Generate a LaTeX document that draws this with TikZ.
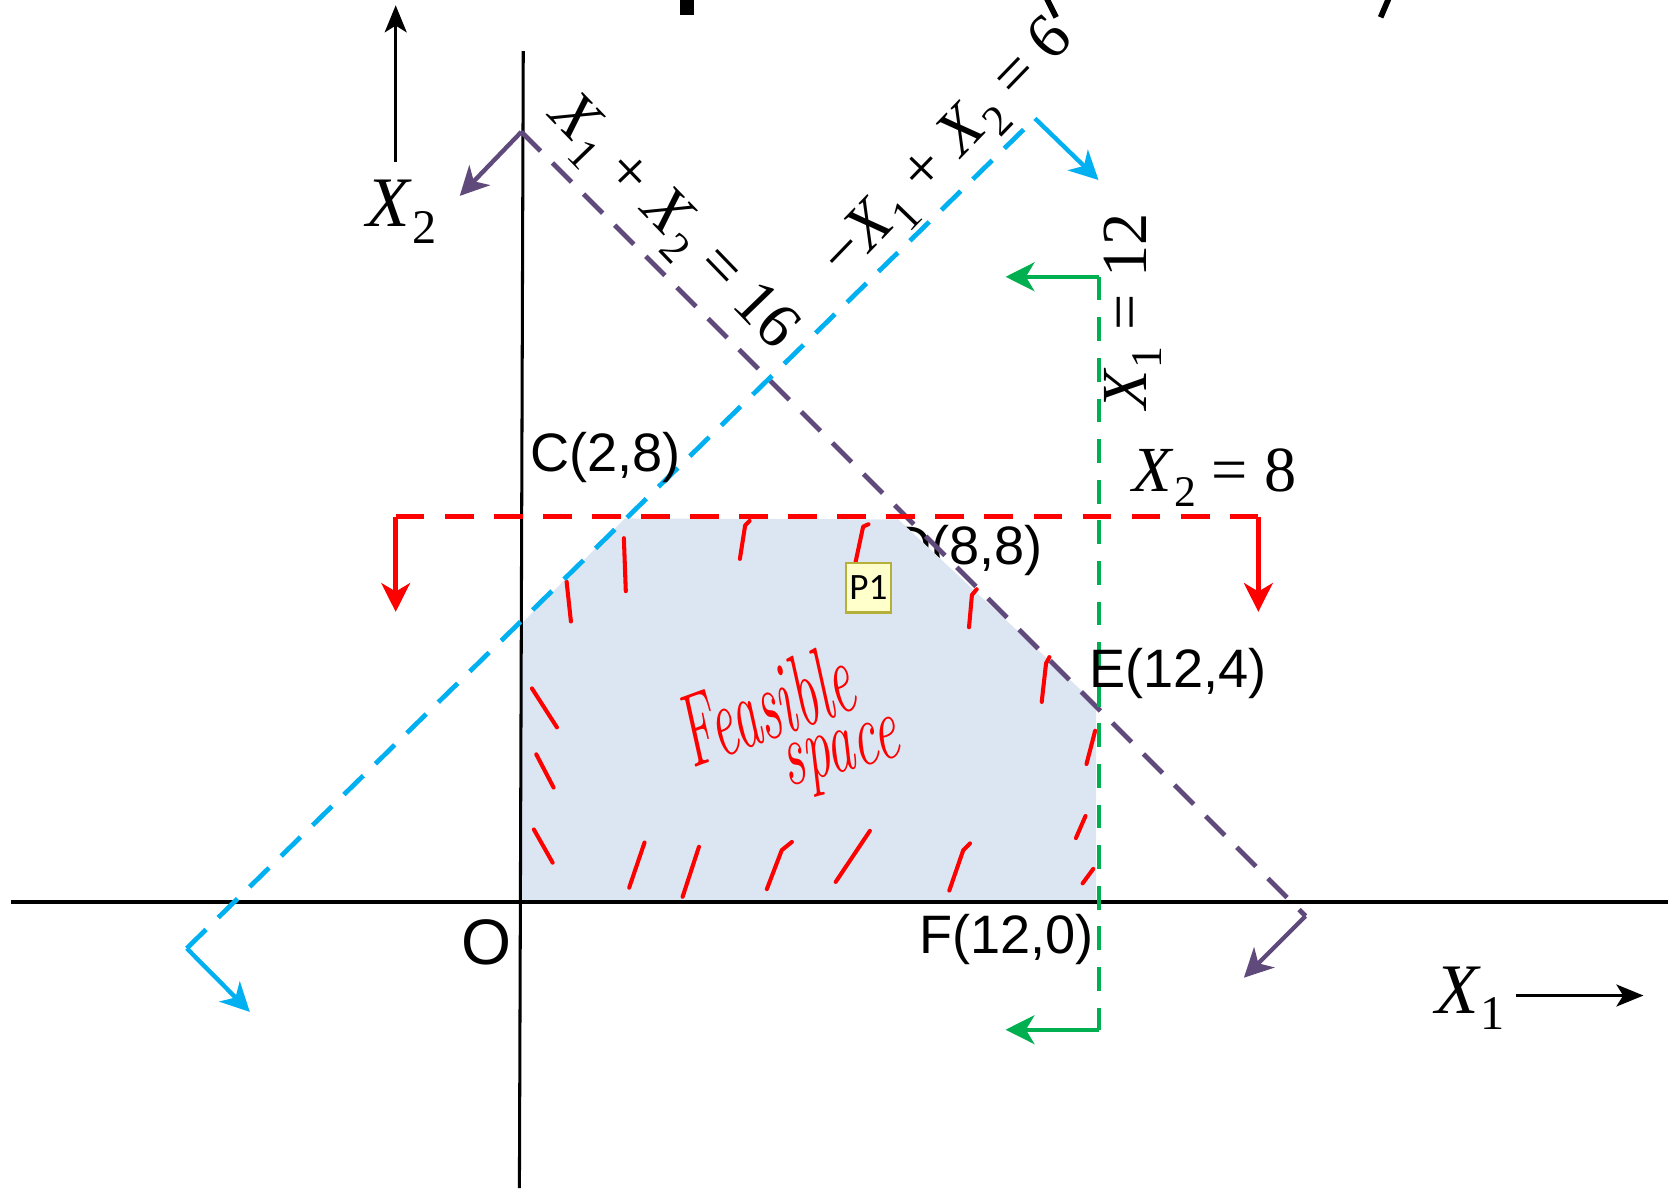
\documentclass[tikz,border=0pt]{standalone}
\usepackage{fontspec}
\usepackage{graphicx}
\usepackage{tikz}
\usetikzlibrary{arrows.meta}

\newfontfamily\sansfnt{Liberation Sans}
\newfontfamily\serfnt{Liberation Serif}
\newfontfamily\notefnt{Carlito}
\newcommand{\Xv}[1]{\textit{X}\raisebox{-0.5ex}{\scalebox{0.68}{#1}}}

\definecolor{skyline}{HTML}{00B0F0}
\definecolor{plumline}{HTML}{604A7B}
\definecolor{leafline}{HTML}{00B050}
\definecolor{regionfill}{HTML}{DCE6F2}
\definecolor{notefill}{HTML}{FFFFCC}
\definecolor{noteedge}{HTML}{B5B03A}

\begin{document}
\begin{tikzpicture}[x=0.5cm,y=0.5cm,
  ptlabel/.style={font=\sansfnt\fontsize{16}{19}\selectfont,inner sep=0pt},
  eqlabel/.style={font=\serfnt\fontsize{19}{22}\selectfont,inner sep=0pt},
  axlabel/.style={font=\serfnt\fontsize{21}{24}\selectfont,inner sep=0pt},
  bound/.style={line width=1.3pt,-{Stealth[length=8.5pt,width=8.5pt,inset=2.5pt]}},
  dashline/.style={line width=1.4pt,dash pattern=on 8pt off 5pt},
  axisarrow/.style={line width=0.8pt,-{Stealth[length=8pt,width=6.5pt,inset=2pt]}},
  hatch/.style={red,line width=1.2pt,line cap=round,line join=round},
  hand/.style={red,font=\itshape\fontsize{16}{19}\selectfont,inner sep=0pt}]

\useasboundingbox (-10.83,-5.94) rectangle (23.82,18.74);

% label D sits partly under the region
\node[ptlabel] (ptD) at (9.27,7.31) {D(8,8)};

\fill[regionfill] (0,0) -- (0,5.78) -- (2.15,7.97) -- (7.83,7.95) -- (11.94,4.11) -- (11.94,0) -- cycle;

% hand marks
\draw[hatch] (0.94,6.66) -- (1.03,5.83);
\draw[hatch] (2.13,7.56) -- (2.17,6.46);
\draw[hatch] (4.74,7.92) -- (4.65,7.83) -- (4.54,7.13);
\draw[hatch] (7.21,7.85) -- (7.10,7.80) -- (6.94,7.05);
\draw[hatch] (9.46,6.50) -- (9.36,6.38) -- (9.30,5.71);
\draw[hatch] (10.97,5.09) -- (10.90,4.96) -- (10.81,4.16);
\draw[hatch] (0.22,4.44) -- (0.74,3.63);
\draw[hatch] (0.31,3.07) -- (0.67,2.38);
\draw[hatch] (0.26,1.51) -- (0.65,0.82);
\draw[hatch] (2.56,1.24) -- (2.24,0.30);
\draw[hatch] (3.69,1.15) -- (3.35,0.11);
\draw[hatch] (5.62,1.25) -- (5.41,1.08) -- (5.10,0.27);
\draw[hatch] (7.24,1.48) -- (6.53,0.42);
\draw[hatch] (9.32,1.22) -- (9.18,1.08) -- (8.89,0.24);
\draw[hatch] (11.92,3.56) -- (11.74,2.87);
\draw[hatch] (11.72,1.79) -- (11.52,1.33);
\draw[hatch] (11.88,0.69) -- (11.66,0.39);
\node[hand,rotate=20] (feasword) at (5.05,4.1) {\scalebox{1}[1.9]{Feasible}};
\node[hand,rotate=15] (spaceword) at (6.68,2.95) {\scalebox{1}[1.7]{space}};

% axes
\draw[line width=1pt] (-10.61,0) -- (23.82,0);
\draw[line width=0.9pt] (0.04,17.68) -- (-0.04,-5.94);

% X1 + X2 = 16
\coordinate (pu1) at (0,16);
\coordinate (pu2) at (16.29,-0.29);
\draw[plumline,dashline] (pu1) -- (pu2);
\draw[plumline,bound] (pu1) -- ++(-1.28,-1.33);
\draw[plumline,bound] (pu2) -- ++(-1.28,-1.28);

% -X1 + X2 = 6
\coordinate (cy1) at (-6.95,-0.96);
\coordinate (cy2) at (10.67,16.28);
\draw[skyline,dashline] (cy1) -- (cy2);
\draw[skyline,bound] (cy1) -- ++(1.31,-1.32);
\draw[skyline,bound] (cy2) -- ++(1.32,-1.28);

% X1 = 12
\coordinate (gr1) at (12,12.99);
\coordinate (gr2) at (12,-2.65);
\draw[leafline,dashline,dash pattern=on 7pt off 5pt] (gr1) -- (gr2);
\draw[leafline,bound] (gr1) -- ++(-1.94,0);
\draw[leafline,bound] (gr2) -- ++(-1.94,0);

% X2 = 8
\coordinate (rd1) at (-2.61,8.01);
\coordinate (rd2) at (15.31,8.01);
\draw[red,dashline,line width=1.6pt,dash pattern=on 8.5pt off 6pt] (rd1) -- (rd2);
\draw[red,bound] (rd1) -- ++(0,-1.98);
\draw[red,bound] (rd2) -- ++(0,-1.98);

% cut-off title
\fill (3.30,18.74) rectangle (3.58,18.42);
\draw[line width=1.7pt] (10.90,18.80) -- (11.11,18.38);
\draw[line width=1.7pt] (18.03,18.80) -- (17.85,18.38);

% axis names
\node[axlabel] (nameX2) at (-2.49,14.34) {\Xv{2}};
\coordinate (x2tail) at (-2.61,15.38);
\coordinate (x2head) at (-2.61,18.63);
\draw[axisarrow] (x2tail) -- (x2head);
\node[axlabel] (nameX1) at (19.71,-2.0) {\Xv{1}};
\coordinate (x1tail) at (20.66,-1.94);
\coordinate (x1head) at (23.31,-1.94);
\draw[axisarrow] (x1tail) -- (x1head);

% constraint names
\node[eqlabel,rotate=-46] (eqA) at (3.12,14.08) {\Xv{1} + \Xv{2} = 16};
\node[eqlabel,rotate=46] (eqB) at (8.9,15.62) {−\Xv{1} + \Xv{2} = 6};
\node[eqlabel,rotate=90] (eqC) at (12.7,12.27) {\Xv{1} = 12};
\node[eqlabel] (eqD) at (14.4,8.82) {\Xv{2} = 8};

% corner points
\node[ptlabel] (ptC) at (1.75,9.24) {C(2,8)};
\node[ptlabel] (ptE) at (13.64,4.75) {E(12,4)};
\node[ptlabel] (ptF) at (10.08,-0.77) {F(12,0)};
\node[ptlabel,font=\sansfnt\fontsize{19}{22}\selectfont] (ptO) at (-0.73,-0.84) {O};

\node[draw=noteedge,fill=notefill,line width=0.7pt,minimum width=0.47cm,minimum height=0.51cm,inner sep=0pt,font=\notefnt\fontsize{11}{13}\selectfont] (noteP) at (7.21,6.53) {P1};

\end{tikzpicture}
\end{document}
